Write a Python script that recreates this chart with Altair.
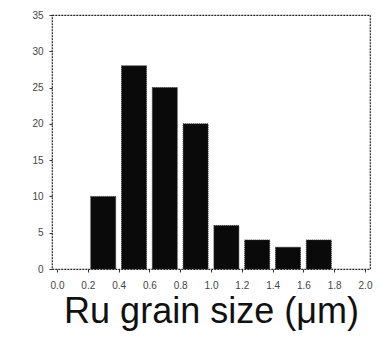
import altair as alt
import pandas as pd

centers = [0.3, 0.5, 0.7, 0.9, 1.1, 1.3, 1.5, 1.7]
counts = [10, 28, 25, 20, 6, 4, 3, 4]
x_ticks = [0.0, 0.2, 0.4, 0.6, 0.8, 1.0, 1.2, 1.4, 1.6, 1.8, 2.0]
y_ticks = [0, 5, 10, 15, 20, 25, 30, 35]

df = pd.DataFrame({"size": centers, "count": counts})

chart = alt.Chart(df).mark_bar(size=25, color="#0a0a0a", stroke="#333", strokeDash=[1, 1], strokeWidth=1).encode(
    x=alt.X("size:Q", scale=alt.Scale(domain=[0, 2], nice=False),
            axis=alt.Axis(values=x_ticks, format=".1f", title="Ru grain size (μm)",
                          titleFont="Liberation Sans", titleFontSize=36, titleFontWeight="normal",
                          titleColor="#111", titlePadding=4,
                          labelFont="Liberation Sans", labelFontSize=10, labelColor="#444",
                          labelPadding=8, tickSize=3, tickColor="#333", domain=False, grid=False)),
    y=alt.Y("count:Q", scale=alt.Scale(domain=[0, 35], nice=False),
            axis=alt.Axis(values=y_ticks, title=None,
                          labelFont="Liberation Sans", labelFontSize=10, labelColor="#444",
                          labelPadding=6, tickSize=3, tickColor="#333", domain=False, grid=False)),
).properties(
    width=318, height=254,
    autosize="none",
    padding={"left": 44, "top": 7, "right": 3, "bottom": 67},
).configure_view(
    stroke="#222", strokeDash=[2, 1], strokeWidth=1.2
)

chart.save("out.html", embed_options={"renderer": "svg", "actions": False})
